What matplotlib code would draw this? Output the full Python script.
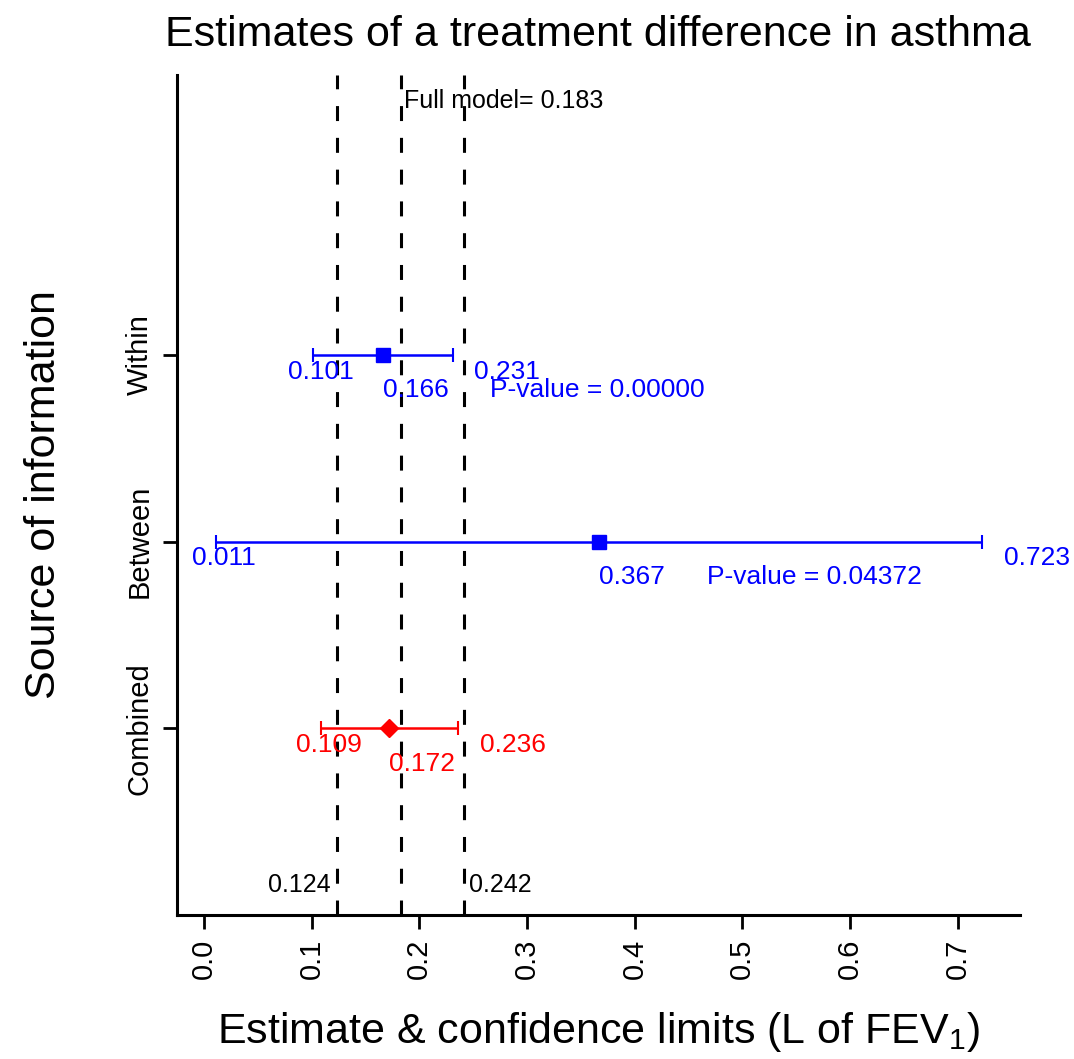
import matplotlib
matplotlib.use('Agg')
import matplotlib.pyplot as plt

plt.rcParams['font.family'] = ['Liberation Sans', 'DejaVu Sans']
plt.rcParams['mathtext.fontset'] = 'custom'
plt.rcParams['mathtext.rm'] = 'Liberation Sans'
plt.rcParams['mathtext.it'] = 'Liberation Sans:italic'

# estimates by source of information
sources = ['Combined', 'Between', 'Within']
rows = [1, 2, 3]
est = [0.172, 0.367, 0.166]
lower = [0.109, 0.011, 0.101]
upper = [0.236, 0.723, 0.231]
pvalues = [None, '0.04372', '0.00000']
colors = ['#ff0000', '#0000ff', '#0000ff']
markers = ['D', 's', 's']

# full model estimate and limits
full_est = 0.183
full_lo = 0.124
full_hi = 0.242

xticks = [0.0, 0.1, 0.2, 0.3, 0.4, 0.5, 0.6, 0.7]

fig = plt.figure(figsize=(10.74, 10.59), dpi=100)
ax = fig.add_axes([0.1648, 0.1360, 0.7849, 0.7932])

for v in [full_lo, full_est, full_hi]:
    ax.axvline(v, color='black', lw=2.2, dashes=(4.9, 5.5), zorder=1)

ax.text(full_est + 0.003, 4.36, 'Full model= %.3f' % full_est, fontsize=18,
        ha='left', va='center')
ax.text(full_lo - 0.006, 0.16, '%.3f' % full_lo, fontsize=18, ha='right', va='center')
ax.text(full_hi + 0.004, 0.16, '%.3f' % full_hi, fontsize=18, ha='left', va='center')

for i in range(len(sources)):
    y = rows[i]
    c = colors[i]
    ms = 9 if markers[i] == 'D' else 10
    ax.errorbar(est[i], y, xerr=[[est[i] - lower[i]], [upper[i] - est[i]]],
                fmt=markers[i], color=c, ecolor=c, ms=ms, elinewidth=1.8,
                capsize=5, capthick=1.5, zorder=3)
    ax.text(lower[i] + 0.0075, y - 0.09, '%.3f' % lower[i], color=c, fontsize=19,
            ha='center', va='center')
    ax.text(upper[i] + 0.02, y - 0.09, '%.3f' % upper[i], color=c, fontsize=19,
            ha='left', va='center')
    ax.text(est[i], y - 0.19, '%.3f' % est[i], color=c, fontsize=19,
            ha='left', va='center')
    if pvalues[i] is not None:
        ax.text(est[i] + 0.1, y - 0.19, 'P-value = ' + pvalues[i], color=c,
                fontsize=19, ha='left', va='center')

ax.set_xlim(-0.025, 0.758)
ax.set_ylim(0, 4.5)
ax.set_xticks(xticks)
ax.set_xticklabels(['%.1f' % t for t in xticks], rotation=90, fontsize=21)
ax.set_yticks(rows)
ax.set_yticklabels(sources, rotation=90, va='center', fontsize=21)
ax.tick_params(axis='both', length=10, width=2, direction='out')
ax.tick_params(axis='x', pad=7)
ax.tick_params(axis='y', pad=7)

for s in ['top', 'right']:
    ax.spines[s].set_visible(False)
for s in ['left', 'bottom']:
    ax.spines[s].set_linewidth(2.2)

ax.set_xlabel('Estimate & confidence limits (L of FEV$_1$)', fontsize=31, labelpad=22)
ax.set_ylabel('Source of information', fontsize=31, labelpad=44)
fig.text(0.557, 0.967, 'Estimates of a treatment difference in asthma',
         fontsize=31, ha='center', va='center')

fig.savefig('out.png', dpi=100)
